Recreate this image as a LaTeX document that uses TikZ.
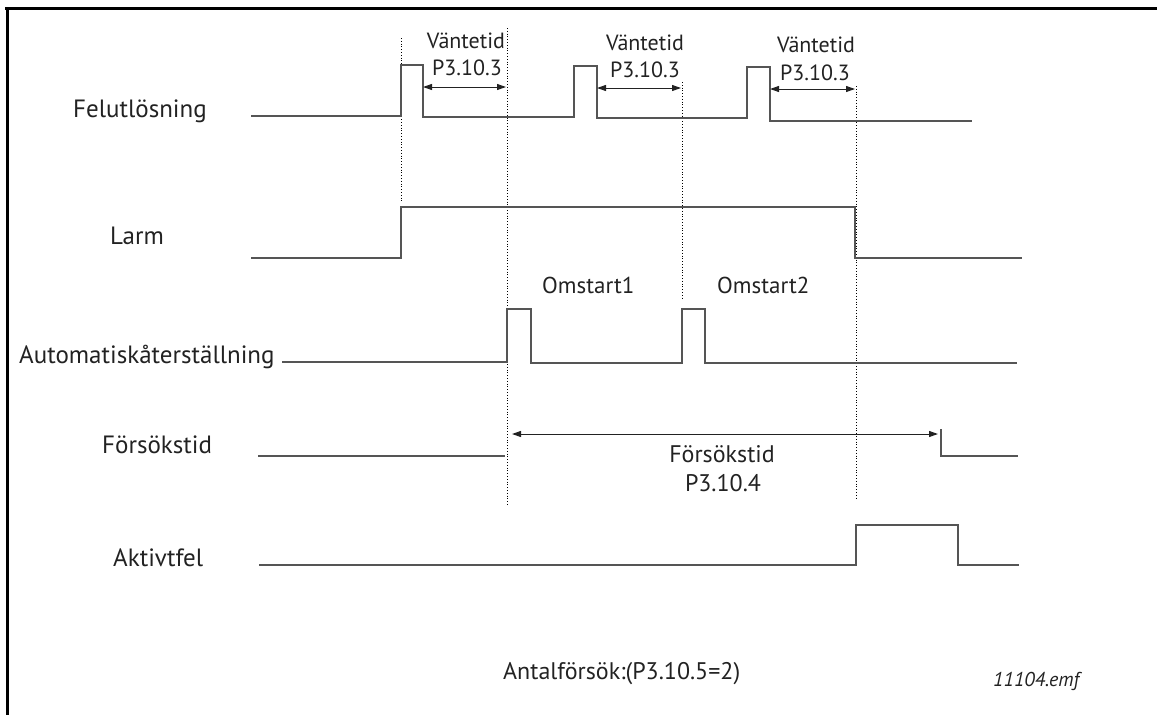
\documentclass[tikz,border=0pt]{standalone}
\usepackage{fontspec}
\setmainfont{PT Sans}
\usetikzlibrary{arrows.meta}
\definecolor{sig}{HTML}{555555}
\definecolor{ink}{HTML}{222222}
\begin{document}
\begin{tikzpicture}[x=1pt,y=-1pt,
  signal/.style={draw=sig,line width=1.4pt},
  guide/.style={draw=black,line width=0.8pt,dotted},
  span/.style={draw=ink,line width=1pt,{Triangle[length=9pt,width=6pt]}-{Triangle[length=9pt,width=6pt]}},
  lbl/.style={inner sep=0pt,text=ink,font=\fontsize{25}{29}\selectfont,anchor=base west},
  small/.style={inner sep=0pt,text=ink,font=\fontsize{22}{26}\selectfont,anchor=base},
  frame/.style={draw=black,line width=3pt}]
\useasboundingbox (0,0) rectangle (1157,715);
% frame
\draw[frame] (5,8.5) -- (1157,8.5);
\draw[frame] (7.5,7) -- (7.5,715);
% row labels
\node[lbl] (l1) at (73,117) {Felutlösning};
\node[lbl] (l2) at (110,244) {Larm};
\node[lbl] (l3) at (19,363) {Automatiskåterställning};
\node[lbl] (l4) at (102,453) {Försökstid};
\node[lbl] (l5) at (113,566) {Aktivtfel};
% dotted guides
\draw[guide] (401,38) -- (401,202);
\draw[guide] (507,28) -- (507,505);
\draw[guide] (682,82) -- (682,300);
\draw[guide] (856,86) -- (856,498);
% signals
\draw[signal] (251,116) -- (401,116) -- (401,65) -- (423,65) -- (423,117) -- (574,117) -- (574,66) -- (597,66) -- (597,118) -- (747,118) -- (747,67) -- (770,67) -- (770,121) -- (972,121);
\draw[signal] (251,258) -- (401,258) -- (401,207) -- (855,207) -- (855,258) -- (1022,258);
\draw[signal] (282,362) -- (507,362) -- (507,309) -- (531,309) -- (531,363) -- (682,363) -- (682,309) -- (705,309) -- (705,363) -- (1017,363);
\draw[signal] (258,456) -- (505,456);
\draw[signal] (941,429) -- (941,456) -- (1018,456);
\draw[signal] (259,565) -- (856,565) -- (856,525) -- (958,525) -- (958,565) -- (1019,565);
% span arrows
\coordinate (a1l) at (423,87); \coordinate (a1r) at (506,87);
\coordinate (a2l) at (597,88); \coordinate (a2r) at (681,88);
\coordinate (a3l) at (770,89); \coordinate (a3r) at (855,89);
\coordinate (a4l) at (512,434); \coordinate (a4r) at (938,434);
\draw[span] (a1l) -- (a1r);
\draw[span] (a2l) -- (a2r);
\draw[span] (a3l) -- (a3r);
\draw[span] (a4l) -- (a4r);
% wait-time labels
\node[small] (w1a) at (466,48) {Väntetid};
\node[small] (w1b) at (467,75) {P3.10.3};
\node[small] (w2a) at (645,50) {Väntetid};
\node[small] (w2b) at (645,77) {P3.10.3};
\node[small] (w3a) at (816,52) {Väntetid};
\node[small] (w3b) at (815,80) {P3.10.3};
% restarts
\node[lbl,font=\fontsize{23}{27}\selectfont] (o1) at (542,293) {Omstart1};
\node[lbl,font=\fontsize{23}{27}\selectfont] (o2) at (717,293) {Omstart2};
% trial time
\node[small,font=\fontsize{24}{28}\selectfont] (f1) at (722,462) {Försökstid};
\node[small,font=\fontsize{24}{28}\selectfont] (f2) at (723,491) {P3.10.4};
% bottom
\node[lbl,font=\fontsize{24}{28}\selectfont] (n1) at (503,679) {Antalförsök:(P3.10.5=2)};
\node[lbl,font=\fontsize{20}{24}\selectfont\itshape] (n2) at (993,686) {11104.emf};
\end{tikzpicture}
\end{document}
